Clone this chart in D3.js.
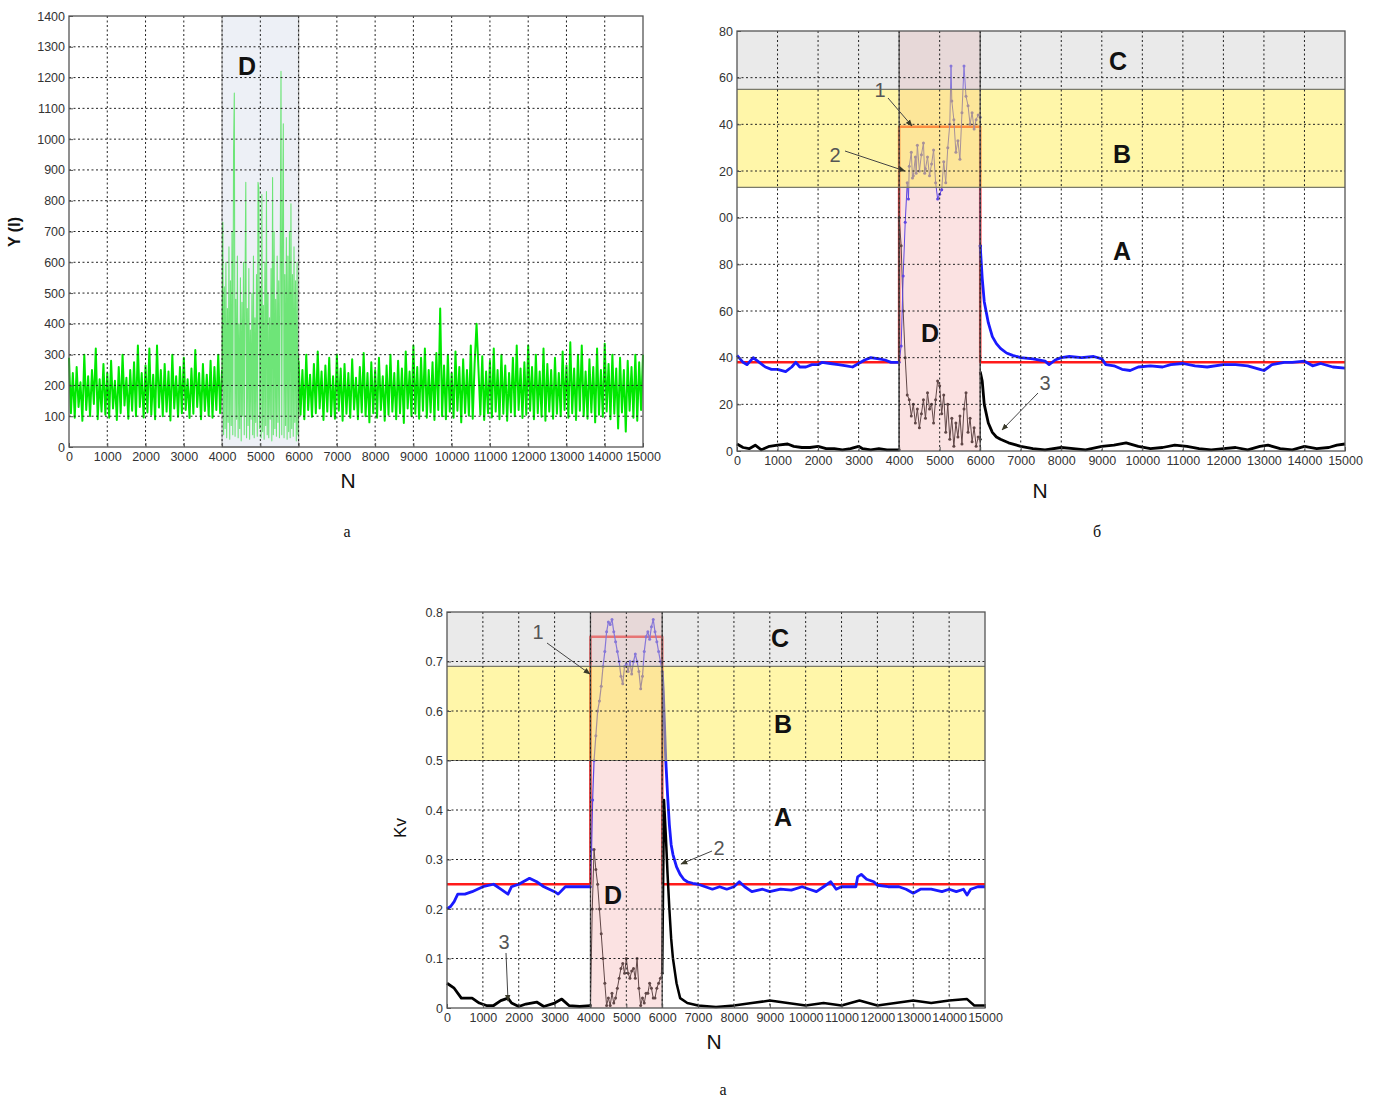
<!DOCTYPE html>
<html>
<head>
<meta charset="utf-8">
<script src="https://cdn.jsdelivr.net/npm/d3@7"></script>
<style>
  body { margin: 0; background: #fff; }
  svg { display: block; }
</style>
</head>
<body>
<div id="chart"></div>
<script>
// ---------------- data ---------------- //

const X_TICKS = d3.range(0, 15001, 1000);
const Y_TICKS_A = d3.range(0, 1401, 100);
const Y_TICKS_B = d3.range(0, 181, 20);
const Y_TICKS_C = [0, 0.1, 0.2, 0.3, 0.4, 0.5, 0.6, 0.7, 0.8];

// panel a : raw signal Y(I), three pieces (start N, step N, values)
const GREEN_PRE = [290,110,240,95,260,130,210,85,300,120,230,100,250,140,320,90,220,115,270,105,
  240,95,280,125,215,88,260,110,300,135,225,92,250,118,275,100,330,130,240,96,
  265,112,320,105,235,90,330,128,250,100,270,115,245,86,300,125,230,98,260,110,
  290,120,220,94,255,108,315,130,240,90,270,117,235,102,280,95,260,120,300,110,250];
const GREEN_IN = [200,730,40,520,60,600,30,450,80,650,25,540,70,700,40,960,1150,35,480,90,
  620,30,400,60,550,20,470,100,600,40,520,860,30,450,70,580,25,380,90,500,
  40,620,30,420,80,560,35,860,840,60,520,30,820,50,460,25,600,70,830,40,
  500,30,420,90,580,20,875,40,700,60,480,35,620,80,540,30,600,1220,40,700,
  1050,30,560,70,680,25,620,50,700,30,790,60,560,35,650,80,540,20,600,40,300];
const GREEN_POST = [280,105,250,90,300,120,235,98,270,110,310,125,245,88,265,115,290,100,230,92,
  300,118,255,85,270,108,240,95,285,122,225,90,260,112,305,100,240,80,275,110,
  250,95,290,120,230,85,265,105,300,115,240,90,280,110,255,78,310,125,245,100,
  330,108,260,92,290,118,320,95,250,112,275,88,305,120,450,100,265,90,300,115,
  240,95,310,118,260,80,285,110,250,102,330,92,270,400,255,105,295,88,245,110,
  280,96,320,115,250,90,300,108,265,85,240,112,290,100,330,120,255,94,275,105,
  330,118,260,90,300,110,245,98,320,85,270,115,250,92,290,108,240,100,310,120,
  265,95,340,110,255,88,300,118,330,100,245,92,285,112,260,80,320,105,250,98,
  335,115,270,90,300,108,255,60,290,112,250,50,280,118,260,95,300,85,275,120,300];

// panel б : curve 2 (blue), curve 3 (black), threshold 1 (red)
const BLUE_B_PRE = [[0,41],[150,38],[250,37],[400,40],[550,38],[700,36],[850,35],[1000,35],[1200,34],
  [1350,36],[1450,38],[1550,36],[1700,36],[1850,37],[2000,37],[2100,38],[2300,37.5],[2500,37],
  [2700,36.5],[2850,36],[3000,37.5],[3150,39],[3300,40],[3500,39.5],[3650,39],[3800,38],[4000,38]];
const BLUE_B_IN = [[4000,38],[4050,45],[4100,75],[4150,98],[4200,115],[4230,108],[4250,122],[4300,128],
  [4330,117],[4350,118],[4400,126],[4420,119],[4450,131],[4500,120],[4550,127],[4600,132],[4630,119],
  [4650,121],[4700,126],[4750,118],[4800,123],[4850,129],[4900,115],[4950,108],[5000,110],[5050,112],
  [5100,124],[5150,115],[5200,130],[5250,140],[5280,165],[5300,150],[5350,142],[5400,128],[5450,133],
  [5500,125],[5550,145],[5600,165],[5650,152],[5700,148],[5750,140],[5800,145],[5850,138],[5900,142],
  [5950,144],[6000,143],[6000,88]];
const BLUE_B_POST = [[6000,88],[6050,74],[6100,64],[6200,55],[6300,49],[6400,46],[6500,44],[6650,42],
  [6800,41],[7000,40],[7300,39.5],[7600,38.5],[7700,37],[7850,39],[8000,40],[8200,40.5],[8500,40],
  [8800,40.5],[9000,39.5],[9100,37],[9300,36.5],[9500,35],[9700,34.5],[9900,36],[10200,36.5],
  [10500,36],[10700,37],[11000,37.5],[11300,36.5],[11600,36],[12000,37],[12300,37],[12600,36.5],
  [12900,35],[13000,34.5],[13200,37],[13500,38],[13700,38],[14000,38.5],[14200,36.5],[14400,37.5],
  [14700,36],[15000,35.5]];
const BLACK_B_PRE = [[0,3],[150,1.5],[300,1],[450,2.5],[600,0.5],[800,2],[1000,2.5],[1250,3],[1400,2],
  [1600,1.5],[1800,1.5],[2000,2],[2200,1],[2400,1],[2600,0.5],[2800,1],[3000,2],[3100,1],[3300,0.5],
  [3500,1],[3700,0.5],[4000,0.5]];
const BLACK_B_IN = [[4000,0.5],[4000,100],[4050,88],[4100,60],[4150,40],[4200,24],[4250,22],[4300,15],
  [4350,20],[4400,12],[4450,18],[4500,10],[4550,16],[4600,22],[4650,14],[4700,25],[4750,18],[4800,20],
  [4850,12],[4900,22],[4950,30],[5000,28],[5050,16],[5100,24],[5150,8],[5200,20],[5250,5],[5300,14],
  [5350,2],[5400,12],[5450,6],[5500,15],[5550,3],[5600,18],[5650,25],[5700,8],[5750,14],[5800,4],
  [5850,10],[5900,2],[5950,6],[6000,5],[6000,88]];
const BLACK_B_POST = [[6000,34],[6050,30],[6100,20],[6200,12],[6300,8],[6400,6],[6500,5],[6700,3.5],
  [7000,2],[7300,1],[7600,0.5],[8000,1.5],[8300,1],[8600,0.5],[9000,2],[9300,2.5],[9600,3.5],
  [9900,2],[10200,1],[10500,1.5],[10800,2.5],[11100,2],[11400,1],[11700,0.5],[12000,1],[12300,1.5],
  [12600,0.5],[12900,2],[13100,2.5],[13400,1],[13700,0.5],[14000,2],[14300,1],[14600,1.5],
  [14800,2.5],[15000,3]];
const THRESH_B = [[0,38],[4000,38],[4000,139],[6000,139],[6000,38],[15000,38]];

// panel в : Kv
const BLUE_C_PRE = [[0,0.2],[100,0.205],[200,0.215],[300,0.23],[500,0.23],[700,0.235],[1000,0.245],
  [1300,0.25],[1500,0.24],[1700,0.23],[1800,0.245],[2000,0.25],[2300,0.262],[2500,0.255],
  [2700,0.245],[3000,0.235],[3100,0.23],[3300,0.245],[3600,0.245],[4000,0.245]];
const BLUE_C_IN = [[4000,0.245],[4030,0.32],[4060,0.42],[4100,0.5],[4150,0.55],[4200,0.6],[4250,0.62],
  [4300,0.65],[4350,0.69],[4400,0.72],[4450,0.76],[4500,0.78],[4550,0.775],[4600,0.785],[4650,0.76],
  [4700,0.74],[4750,0.72],[4800,0.7],[4850,0.67],[4900,0.655],[4950,0.69],[5000,0.695],[5050,0.68],
  [5100,0.7],[5150,0.675],[5200,0.7],[5250,0.715],[5300,0.7],[5350,0.68],[5400,0.645],[5450,0.67],
  [5500,0.72],[5550,0.75],[5600,0.76],[5650,0.745],[5700,0.77],[5750,0.785],[5800,0.76],[5850,0.74],
  [5900,0.72],[5950,0.7],[6000,0.68]];
const BLUE_C_POST = [[6000,0.68],[6030,0.64],[6060,0.58],[6100,0.5],[6150,0.43],[6200,0.37],[6250,0.33],
  [6300,0.31],[6400,0.285],[6500,0.27],[6600,0.26],[6700,0.255],[6850,0.252],[7000,0.25],[7200,0.245],
  [7400,0.24],[7600,0.245],[7800,0.24],[8000,0.245],[8150,0.255],[8300,0.245],[8500,0.235],[8800,0.24],
  [9000,0.235],[9300,0.24],[9600,0.238],[9900,0.245],[10100,0.24],[10300,0.235],[10500,0.245],
  [10700,0.255],[10850,0.24],[11000,0.245],[11200,0.245],[11400,0.245],[11450,0.265],[11550,0.27],
  [11700,0.26],[11900,0.255],[12000,0.248],[12300,0.245],[12600,0.245],[12800,0.24],[13000,0.232],
  [13200,0.24],[13500,0.24],[13800,0.235],[14000,0.24],[14200,0.235],[14400,0.24],[14500,0.228],
  [14600,0.24],[14800,0.245],[15000,0.245]];
const BLACK_C_PRE = [[0,0.05],[200,0.04],[400,0.02],[700,0.02],[900,0.01],[1100,0.005],[1300,0.005],
  [1500,0.015],[1700,0.02],[1800,0.01],[2000,0.003],[2200,0.008],[2500,0.012],[2700,0.003],
  [3000,0.01],[3200,0.018],[3400,0.005],[3700,0.003],[4000,0.005]];
const BLACK_C_IN = [[4000,0.005],[4050,0.2],[4100,0.32],[4150,0.28],[4200,0.25],[4250,0.2],[4300,0.15],
  [4350,0.1],[4400,0.05],[4450,0.005],[4500,0.02],[4550,0.005],[4600,0.03],[4650,0.01],[4700,0.02],
  [4750,0.04],[4800,0.06],[4850,0.08],[4900,0.09],[4950,0.07],[5000,0.1],[5050,0.07],[5100,0.06],
  [5150,0.075],[5200,0.08],[5250,0.06],[5300,0.1],[5350,0.04],[5400,0.005],[5450,0.02],[5500,0.01],
  [5550,0.03],[5600,0.03],[5650,0.05],[5700,0.04],[5750,0.02],[5800,0.02],[5850,0.04],[5900,0.05],
  [5950,0.06],[6000,0.07]];
const BLACK_C_POST = [[6000,0.07],[6050,0.42],[6100,0.35],[6150,0.27],[6200,0.2],[6250,0.14],[6300,0.1],
  [6400,0.05],[6500,0.02],[6700,0.01],[7000,0.005],[7500,0.002],[8000,0.005],[8500,0.01],[9000,0.015],
  [9500,0.01],[10000,0.005],[10500,0.01],[11000,0.005],[11500,0.015],[12000,0.005],[12500,0.01],
  [13000,0.015],[13500,0.01],[14000,0.015],[14500,0.018],[14700,0.005],[15000,0.005]];
const THRESH_C = [[0,0.25],[4000,0.25],[4000,0.75],[6000,0.75],[6000,0.25],[15000,0.25]];

// zones: [from, to]
const ZONE_D = [4000, 6000];
const ZONES_B = { B: [113, 155], C: [155, 180] };
const ZONES_C = { B: [0.5, 0.69], C: [0.69, 0.8] };

// ---------------- layout ---------------- //

const BOX_A = { left: 69, right: 643, top: 16, bottom: 447 };
const BOX_B = { left: 737, right: 1345, top: 31, bottom: 451 };
const BOX_C = { left: 447, right: 985, top: 612, bottom: 1008 };
const FONT = "'Liberation Sans', Arial, sans-serif";
const SERIF = "'Liberation Serif', 'Times New Roman', serif";

const svg = d3.select("#chart").append("svg")
  .attr("width", 1376)
  .attr("height", 1098);

const defs = svg.append("defs");
defs.append("marker")
  .attr("id", "arrow")
  .attr("viewBox", "0 0 10 10")
  .attr("refX", 9).attr("refY", 5)
  .attr("markerWidth", 7).attr("markerHeight", 7)
  .attr("orient", "auto")
  .append("path")
  .attr("d", "M0,1 L10,5 L0,9 z")
  .attr("fill", "#3a3a2a");

function stepSeries(start, step, values) {
  return values.map((v, i) => [start + i * step, v]);
}

function makeScales(box, yMax) {
  const x = d3.scaleLinear().domain([0, 15000]).range([box.left, box.right]);
  const y = d3.scaleLinear().domain([0, yMax]).range([box.bottom, box.top]);
  return [x, y];
}

function drawLine(g, data, x, y, color, width) {
  g.append("path")
    .datum(data)
    .attr("fill", "none")
    .attr("stroke", color)
    .attr("stroke-width", width)
    .attr("stroke-linejoin", "round")
    .attr("d", d3.line().x(d => x(d[0])).y(d => y(d[1])));
}

function drawDots(g, data, x, y, color) {
  g.append("g").selectAll("circle")
    .data(data)
    .enter().append("circle")
    .attr("cx", d => x(d[0]))
    .attr("cy", d => y(d[1]))
    .attr("r", 1.5)
    .attr("fill", color);
}

function drawGrid(g, box, x, y, yTicks) {
  g.selectAll(".vgrid")
    .data(X_TICKS.slice(1, -1))
    .enter().append("line")
    .attr("x1", d => x(d)).attr("x2", d => x(d))
    .attr("y1", box.top).attr("y2", box.bottom)
    .attr("stroke", "#222").attr("stroke-width", 1)
    .attr("stroke-dasharray", "2,2.5");
  g.selectAll(".hgrid")
    .data(yTicks.slice(1, -1))
    .enter().append("line")
    .attr("x1", box.left).attr("x2", box.right)
    .attr("y1", d => y(d)).attr("y2", d => y(d))
    .attr("stroke", "#222").attr("stroke-width", 1)
    .attr("stroke-dasharray", "2,2.5");
}

function drawAxes(g, box, x, y, yTicks, yFormat) {
  const xa = g.append("g")
    .attr("transform", `translate(0, ${box.bottom})`)
    .call(d3.axisBottom(x).tickValues(X_TICKS).tickSize(-4).tickPadding(5).tickFormat(d3.format("d")));
  const ya = g.append("g")
    .attr("class", "y-axis")
    .attr("transform", `translate(${box.left}, 0)`)
    .call(d3.axisLeft(y).tickValues(yTicks).tickSize(-4).tickPadding(4).tickFormat(yFormat));
  [xa, ya].forEach(a => {
    a.select(".domain").remove();
    a.selectAll("line").attr("stroke", "#555");
    a.selectAll("text")
      .style("font-family", FONT)
      .style("font-size", "12.5px")
      .attr("fill", "#333");
  });
  g.append("rect")
    .attr("x", box.left).attr("y", box.top)
    .attr("width", box.right - box.left).attr("height", box.bottom - box.top)
    .attr("fill", "none").attr("stroke", "#555").attr("stroke-width", 1.3);
  return ya;
}

function addText(txt, x, y, size, opts = {}) {
  return svg.append("text")
    .attr("x", x).attr("y", y)
    .attr("text-anchor", "middle")
    .style("font-family", opts.family || FONT)
    .style("font-size", size + "px")
    .style("font-weight", opts.weight || "normal")
    .attr("fill", opts.color || "#111")
    .attr("transform", opts.rotate ? `rotate(-90, ${x}, ${y})` : null)
    .text(txt);
}

function addArrow(x1, y1, x2, y2) {
  svg.append("line")
    .attr("x1", x1).attr("y1", y1).attr("x2", x2).attr("y2", y2)
    .attr("stroke", "#444").attr("stroke-width", 1)
    .attr("marker-end", "url(#arrow)");
}

function drawZones(g, box, x, y, zones) {
  const dx0 = x(ZONE_D[0]), dx1 = x(ZONE_D[1]);
  g.append("rect")
    .attr("x", dx0).attr("y", box.top)
    .attr("width", dx1 - dx0).attr("height", box.bottom - box.top)
    .attr("fill", "#f2a0a0").attr("opacity", 0.3);
  g.append("rect")
    .attr("x", box.left).attr("y", y(zones.B[1]))
    .attr("width", box.right - box.left).attr("height", y(zones.B[0]) - y(zones.B[1]))
    .attr("fill", "#ffec40").attr("opacity", 0.45);
  g.append("rect")
    .attr("x", box.left).attr("y", y(zones.C[1]))
    .attr("width", box.right - box.left).attr("height", y(zones.C[0]) - y(zones.C[1]))
    .attr("fill", "#c8c8c8").attr("opacity", 0.38);
  [zones.B[0], zones.B[1]].forEach(v => {
    g.append("line")
      .attr("x1", box.left).attr("x2", box.right)
      .attr("y1", y(v)).attr("y2", y(v))
      .attr("stroke", "#7a7a6a").attr("stroke-width", 1.2);
  });
  [dx0, dx1].forEach(v => {
    g.append("line")
      .attr("x1", v).attr("x2", v)
      .attr("y1", box.top).attr("y2", box.bottom)
      .attr("stroke", "#555").attr("stroke-width", 1.3);
  });
}

// ---------------- panel a ---------------- //

function drawPanelA() {
  const [x, y] = makeScales(BOX_A, 1400);
  const g = svg.append("g");
  drawLine(g, stepSeries(0, 50, GREEN_PRE), x, y, "#00e800", 2);
  drawLine(g, stepSeries(4000, 20, GREEN_IN), x, y, "#00e800", 1.1);
  drawLine(g, stepSeries(6000, 50, GREEN_POST), x, y, "#00e800", 2);
  // D overlay
  g.append("rect")
    .attr("x", x(ZONE_D[0])).attr("y", BOX_A.top)
    .attr("width", x(ZONE_D[1]) - x(ZONE_D[0])).attr("height", BOX_A.bottom - BOX_A.top)
    .attr("fill", "#dce3ef").attr("opacity", 0.5)
    .attr("stroke", "#555").attr("stroke-width", 1.3);
  drawGrid(g, BOX_A, x, y, Y_TICKS_A);
  drawAxes(g, BOX_A, x, y, Y_TICKS_A, d3.format("d"));
  addText("D", 247, 75, 25, { weight: "bold" });
  addText("Y (I)", 20, 232, 16, { weight: "bold", rotate: true });
  addText("N", 348, 488, 21);
  addText("а", 347, 537, 16, { family: SERIF });
}

// ---------------- panel б ---------------- //

function drawPanelB() {
  const [x, y] = makeScales(BOX_B, 180);
  const g = svg.append("g");
  drawLine(g, THRESH_B, x, y, "#ff1a1a", 2.5);
  drawLine(g, BLACK_B_PRE, x, y, "#000", 2.8);
  drawLine(g, BLACK_B_IN, x, y, "#222", 1);
  drawDots(g, BLACK_B_IN, x, y, "#222");
  drawLine(g, BLACK_B_POST, x, y, "#000", 2.8);
  drawLine(g, BLUE_B_PRE, x, y, "#1a1aff", 2.8);
  drawLine(g, BLUE_B_IN, x, y, "#2020ff", 1);
  drawDots(g, BLUE_B_IN, x, y, "#2020ff");
  drawLine(g, BLUE_B_POST, x, y, "#1a1aff", 2.8);
  drawZones(g, BOX_B, x, y, ZONES_B);
  drawGrid(g, BOX_B, x, y, Y_TICKS_B);
  const ya = drawAxes(g, BOX_B, x, y, Y_TICKS_B, d3.format("d"));
  // the leading digits are cut off in the source picture (clip in the axis' own coordinates)
  defs.append("clipPath").attr("id", "clipB")
    .append("rect").attr("x", -18).attr("y", 0).attr("width", 23).attr("height", 480);
  ya.attr("clip-path", "url(#clipB)");
  addText("C", 1118, 70, 25, { weight: "bold" });
  addText("B", 1122, 163, 25, { weight: "bold" });
  addText("A", 1122, 260, 25, { weight: "bold" });
  addText("D", 930, 342, 25, { weight: "bold" });
  addText("1", 880, 97, 20, { color: "#555" });
  addArrow(888, 98, 912, 126);
  addText("2", 835, 162, 20, { color: "#555" });
  addArrow(845, 151, 905, 171);
  addText("3", 1045, 390, 20, { color: "#555" });
  addArrow(1038, 393, 1002, 430);
  addText("N", 1040, 498, 21);
  addText("б", 1097, 537, 16, { family: SERIF });
}

// ---------------- panel в ---------------- //

function drawPanelC() {
  const [x, y] = makeScales(BOX_C, 0.8);
  const g = svg.append("g");
  drawLine(g, THRESH_C, x, y, "#ff1a1a", 2.5);
  drawLine(g, BLACK_C_PRE, x, y, "#000", 2.8);
  drawLine(g, BLACK_C_IN, x, y, "#222", 1);
  drawDots(g, BLACK_C_IN, x, y, "#222");
  drawLine(g, BLACK_C_POST, x, y, "#000", 2.5);
  drawLine(g, BLUE_C_PRE, x, y, "#1a1aff", 2.8);
  drawLine(g, BLUE_C_IN, x, y, "#2020ff", 1.2);
  drawDots(g, BLUE_C_IN, x, y, "#2020ff");
  drawLine(g, BLUE_C_POST, x, y, "#1a1aff", 2.8);
  drawZones(g, BOX_C, x, y, ZONES_C);
  drawGrid(g, BOX_C, x, y, Y_TICKS_C);
  drawAxes(g, BOX_C, x, y, Y_TICKS_C, d => d === 0 ? "0" : d3.format(".1f")(d));
  addText("C", 780, 647, 25, { weight: "bold" });
  addText("B", 783, 733, 25, { weight: "bold" });
  addText("A", 783, 826, 25, { weight: "bold" });
  addText("D", 613, 904, 25, { weight: "bold" });
  addText("1", 538, 639, 20, { color: "#555" });
  addArrow(547, 643, 590, 674);
  addText("2", 719, 855, 20, { color: "#555" });
  addArrow(712, 851, 681, 864);
  addText("3", 504, 949, 20, { color: "#555" });
  addArrow(506, 953, 508, 1001);
  addText("Kv", 406, 828, 17, { rotate: true });
  addText("N", 714, 1049, 21);
  addText("а", 723, 1095, 16, { family: SERIF });
}

drawPanelA();
drawPanelB();
drawPanelC();
</script>
</body>
</html>
